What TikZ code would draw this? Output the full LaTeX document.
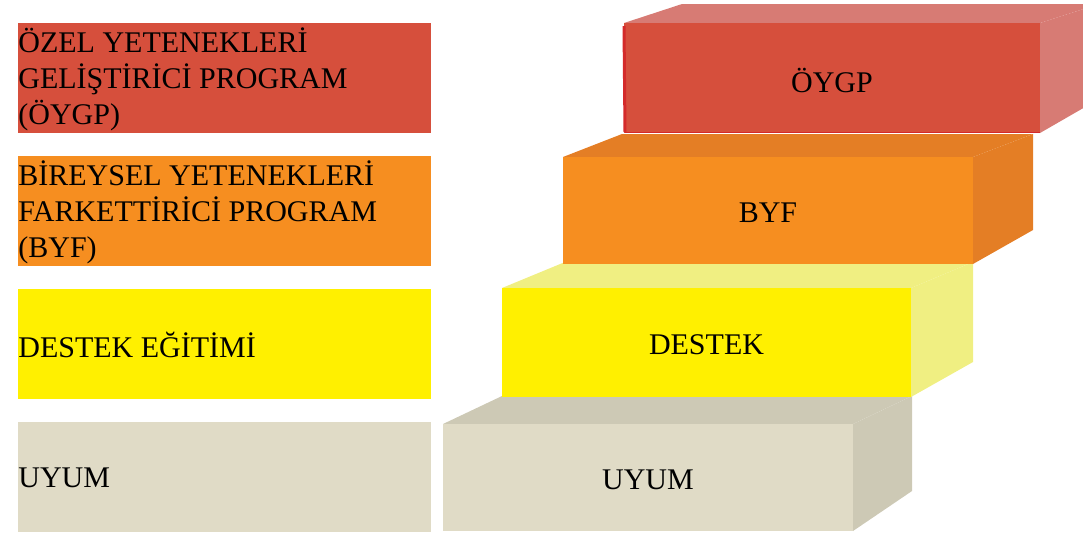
\documentclass[tikz,border=0pt]{standalone}
\usepackage{fontspec}
\setmainfont{Liberation Serif}

\definecolor{oygpfront}{HTML}{D64F3C}
\definecolor{oygpside}{HTML}{D77B74}
\definecolor{oygpedge}{HTML}{D42A2A}
\definecolor{byffront}{HTML}{F68E20}
\definecolor{byfside}{HTML}{E47E25}
\definecolor{destekfront}{HTML}{FFF000}
\definecolor{destekside}{HTML}{F0EF82}
\definecolor{uyumfront}{HTML}{E0DBC6}
\definecolor{uyumside}{HTML}{CDC9B5}

\tikzset{
  boxtext/.style={font=\fontsize{15}{18}\selectfont, inner sep=0pt, align=left},
  steptext/.style={font=\fontsize{15}{18}\selectfont, inner sep=0pt},
}

\begin{document}
\begin{tikzpicture}[x=0.5pt,y=-0.5pt]
\useasboundingbox (0,0) rectangle (1083,532);
\clip (0,0) rectangle (1083,532);

% legend boxes on the left
\foreach \name/\yt/\col/\txt in {
    oygp/23/oygpfront/{ÖZEL YETENEKLERİ\\GELİŞTİRİCİ PROGRAM\\(ÖYGP)},
    byf/156/byffront/{BİREYSEL YETENEKLERİ\\FARKETTİRİCİ PROGRAM\\(BYF)},
    destek/289/destekfront/{DESTEK EĞİTİMİ},
    uyum/422/uyumfront/{UYUM}} {
    \fill[\col] (18,\yt) rectangle (431,\yt+110);
    \node[boxtext, anchor=west] (leg-\name) at (18,\yt+56) {\txt};
}

% stairs, drawn from the bottom step up
\foreach \name/\xl/\yt/\xr/\yb/\bxl/\byt/\bxr/\syb/\fcol/\scol/\txt in {
    uyum/443/424/853/531/502/396/912/491/uyumfront/uyumside/UYUM,
    destek/502/288/911/397/565/262/973/362/destekfront/destekside/DESTEK,
    byf/563/157/973/264/622/134/1033/230/byffront/byfside/BYF,
    oygp/624/23/1040/133/682/4/1099/99/oygpfront/oygpside/ÖYGP} {
    \fill[\scol] (\xl,\yt) -- (\bxl,\byt) -- (\bxr,\byt) -- (\xr,\yt) -- cycle; % top face
    \fill[\scol] (\xr,\yt) -- (\bxr,\byt) -- (\bxr,\syb) -- (\xr,\yb) -- cycle; % side face
    \fill[\fcol] (\xl,\yt) rectangle (\xr,\yb); % front face
    \node[steptext] (step-\name) at ({(\xl+\xr)/2},{(\yt+\yb)/2+2}) {\txt};
}

% darker rim on the top step
\draw[oygpedge, line width=1.5pt] (624,26) -- (625,132);
\draw[oygpedge, line width=0.5pt] (625,132.5) -- (1040,132.5);

\end{tikzpicture}
\end{document}
